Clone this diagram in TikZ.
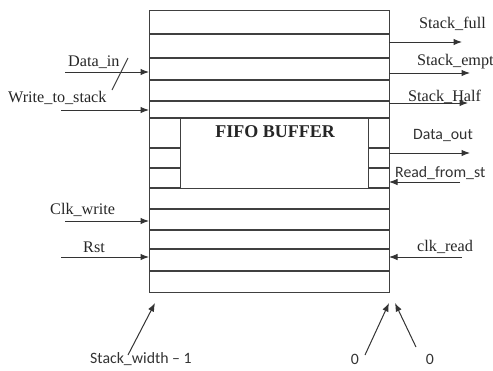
\documentclass[tikz,border=0pt]{standalone}
\usepackage{fontspec}
\setmainfont{Liberation Serif}
\newfontfamily\calfont{Carlito}
\usetikzlibrary{arrows.meta}
\begin{document}
\begin{tikzpicture}[x=1pt,y=-1pt,
  ln/.style={draw=black!75,line width=1.1pt},
  sig/.style={draw=black!80,line width=1pt,-{Latex[length=8.5pt,width=6.5pt]}},
  lab/.style={inner sep=0pt,anchor=west,font=\fontsize{16.2}{16}\selectfont,text=black!85},
  slab/.style={inner sep=0pt,anchor=west,font=\calfont\fontsize{15.8}{16}\selectfont,text=black!80}]
\useasboundingbox (0,0) rectangle (493,370);
\clip (0,0) rectangle (493,370);
% main stack box
\node[ln,minimum width=240pt,minimum height=282pt,inner sep=0pt,anchor=north west] (buf) at (149,10) {};
\foreach \yy in {34,58,80,101,118,188,209,230,249,271}
  \draw[ln] (149,\yy) -- (389,\yy);
\foreach \yy in {148,168}{
  \draw[ln] (149,\yy) -- (180,\yy);
  \draw[ln] (368,\yy) -- (389,\yy);}
\node[ln,fill=white,minimum width=188pt,minimum height=70pt,inner sep=0pt,anchor=north west] (fifo) at (180,118) {};
\node[inner sep=0pt,font=\bfseries\fontsize{18}{18}\selectfont,text=black!85] (title) at (275,132) {FIFO BUFFER};
% left inputs
\coordinate (din) at (65,72);   \coordinate (dinE) at (149,72);
\coordinate (wts) at (61,110);  \coordinate (wtsE) at (149,110);
\coordinate (ckw) at (65,221);  \coordinate (ckwE) at (149,221);
\coordinate (rst) at (61,257);  \coordinate (rstE) at (149,257);
\draw[sig] (din) -- (dinE);
\draw[sig] (wts) -- (wtsE);
\draw[sig] (ckw) -- (ckwE);
\draw[sig] (rst) -- (rstE);
\coordinate (sl1) at (112,90); \coordinate (sl2) at (128,58);
\draw[ln,line width=1pt] (sl1) -- (sl2);
\node[lab] (ldin) at (68,62) {Data\_in};
\node[lab] (lwts) at (8,98) {Write\_to\_stack};
\node[lab] (lckw) at (50,210) {Clk\_write};
\node[lab] (lrst) at (83,247) {Rst};
% right side
\coordinate (sfS) at (389,42);  \coordinate (sfE) at (462,42);
\coordinate (seS) at (389,73);  \coordinate (seE) at (470,73);
\coordinate (shS) at (389,103); \coordinate (shE) at (468,103);
\coordinate (doS) at (389,153); \coordinate (doE) at (470,153);
\coordinate (rfS) at (460,182); \coordinate (rfE) at (389,182);
\coordinate (crS) at (462,257); \coordinate (crE) at (389,257);
\draw[sig] (sfS) -- (sfE);
\draw[sig] (seS) -- (seE);
\draw[sig] (shS) -- (shE);
\draw[sig] (doS) -- (doE);
\draw[sig] (rfS) -- (rfE);
\draw[sig] (crS) -- (crE);
\node[lab] (lsf) at (419,24) {Stack\_full};
\node[lab] (lse) at (417,62) {Stack\_empt};
\node[lab] (lsh) at (408,97) {Stack\_Half};
\node[slab] (ldo) at (413,135) {Data\_out};
\node[slab] (lrf) at (395,173) {Read\_from\_st};
\node[lab] (lcr) at (417,247) {clk\_read};
% bottom
\node[slab] (lsw) at (90,359) {Stack\_width – 1};
\node[slab,anchor=center] (lz1) at (355,359) {0};
\node[slab,anchor=center] (lz2) at (430,359) {0};
\coordinate (a1S) at (128,355); \coordinate (a1E) at (155,303);
\coordinate (a2S) at (365,355); \coordinate (a2E) at (389,303);
\coordinate (a3S) at (416,347); \coordinate (a3E) at (395,303);
\draw[sig] (a1S) -- (a1E);
\draw[sig] (a2S) -- (a2E);
\draw[sig] (a3S) -- (a3E);
\end{tikzpicture}
\end{document}
